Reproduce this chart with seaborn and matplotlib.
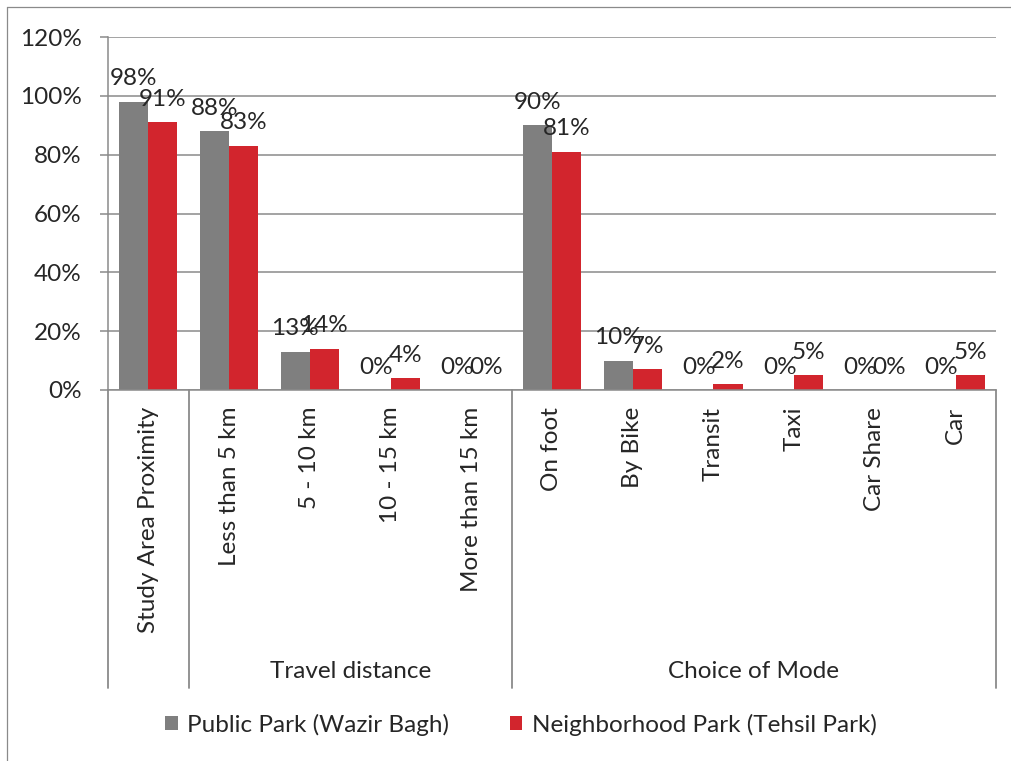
import matplotlib
matplotlib.use("Agg")
import matplotlib.pyplot as plt
from matplotlib.lines import Line2D
from matplotlib.patches import Patch
import seaborn as sns
import pandas as pd

# Survey categories (first-level axis) and their groups (second-level axis)
categories = ["Study Area Proximity", "Less than 5 km", "5 - 10 km", "10 - 15 km",
              "More than 15 km", "On foot", "By Bike", "Transit", "Taxi",
              "Car Share", "Car"]
group_names = ["Travel distance", "Choice of Mode"]
group_spans = [(1, 4), (5, 10)]

# Share of respondents (%)
public_park = [98, 88, 13, 0, 0, 90, 10, 0, 0, 0, 0]
neighborhood_park = [91, 83, 14, 4, 0, 81, 7, 2, 5, 0, 5]
series_names = ["Public Park (Wazir Bagh)", "Neighborhood Park (Tehsil Park)"]
y_ticks = [0, 20, 40, 60, 80, 100, 120]

colors = ["#7F7F7F", "#D2252D"]
line_gray = "#8A8A8A"
FS = 17.5

df = pd.DataFrame({
    "category": categories * 2,
    "value": public_park + neighborhood_park,
    "series": [series_names[0]] * len(categories) + [series_names[1]] * len(categories),
})

sns.set_style("white")
plt.rcParams["font.family"] = ["Lato", "DejaVu Sans"]

W, H = 1012, 761
fig = plt.figure(figsize=(W / 100, H / 100), dpi=100)
left, right, top, bottom = 108, 996, 37, 390
ax = fig.add_axes([left / W, 1 - bottom / H, (right - left) / W, (bottom - top) / H])

sns.barplot(data=df, x="category", y="value", hue="series", order=categories,
            hue_order=series_names, palette=colors, saturation=1, width=0.72,
            errorbar=None, legend=False, linewidth=0, ax=ax)

ax.set_xlim(-0.5, len(categories) - 0.5)
ax.set_ylim(0, 120)
ax.set_yticks(y_ticks)
ax.set_yticklabels([f"{t}%" for t in y_ticks])
ax.set_xlabel("")
ax.set_ylabel("")

ax.yaxis.grid(True, color=line_gray, linewidth=1.1)
ax.xaxis.grid(False)
ax.set_axisbelow(True)
for side in ["top", "right"]:
    ax.spines[side].set_visible(False)
for side in ["left", "bottom"]:
    ax.spines[side].set_color(line_gray)
    ax.spines[side].set_linewidth(1.1)

ax.tick_params(axis="y", length=6, width=1.1, color=line_gray, labelsize=FS, pad=13,
               left=True)
ax.tick_params(axis="x", length=0, labelsize=FS, pad=12, rotation=90)

# Value labels above each bar
for cont in ax.containers:
    ax.bar_label(cont, labels=[f"{v:.0f}%" for v in cont.datavalues],
                 padding=9, fontsize=FS)

# Multi-level category axis: separators and group titles
xt = ax.get_xaxis_transform()
sep_depth = -(688 - bottom) / (bottom - top)
for x in [-0.5, group_spans[0][0] - 0.5, group_spans[1][0] - 0.5, len(categories) - 0.5]:
    ax.add_line(Line2D([x, x], [0, sep_depth], transform=xt, clip_on=False,
                       color=line_gray, linewidth=1.3))
label_y = -(672 - bottom) / (bottom - top)
for name, (a, b) in zip(group_names, group_spans):
    ax.text((a + b) / 2, label_y, name, transform=xt, ha="center", va="center",
            fontsize=FS)

handles = [Patch(facecolor=c, edgecolor="none") for c in colors]
fig.legend(handles, series_names, loc="center", bbox_to_anchor=(0.515, 1 - 725 / H),
           ncol=2, frameon=False, fontsize=FS, handlelength=0.5, handleheight=0.5,
           handletextpad=0.4, columnspacing=2.5)

# Chart frame (top and left edges)
fig.add_artist(Line2D([7 / W, 1], [1 - 7 / H, 1 - 7 / H], transform=fig.transFigure,
                      color=line_gray, linewidth=0.9))
fig.add_artist(Line2D([7 / W, 7 / W], [0, 1 - 7 / H], transform=fig.transFigure,
                      color=line_gray, linewidth=0.9))

fig.savefig("out.png", dpi=100, facecolor="white")
